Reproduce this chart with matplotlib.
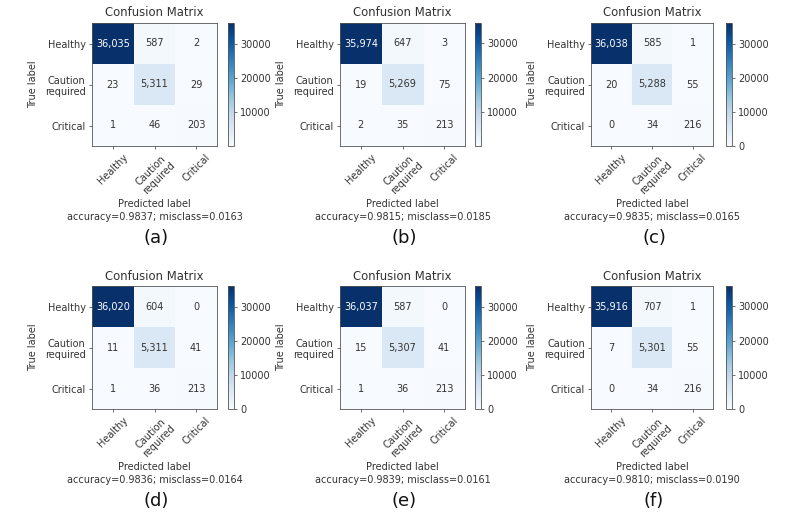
import numpy as np
import matplotlib
matplotlib.use('Agg')
import matplotlib.pyplot as plt

# ── Data ────────────────────────────────────────────────
classes = ['Healthy', 'Caution\nrequired', 'Critical']
panel_letters = ['(a)', '(b)', '(c)', '(d)', '(e)', '(f)']

cm_a = [[36035, 587, 2], [23, 5311, 29], [1, 46, 203]]
cm_b = [[35974, 647, 3], [19, 5269, 75], [2, 35, 213]]
cm_c = [[36038, 585, 1], [20, 5288, 55], [0, 34, 216]]
cm_d = [[36020, 604, 0], [11, 5311, 41], [1, 36, 213]]
cm_e = [[36037, 587, 0], [15, 5307, 41], [1, 36, 213]]
cm_f = [[35916, 707, 1], [7, 5301, 55], [0, 34, 216]]
matrices = [cm_a, cm_b, cm_c, cm_d, cm_e, cm_f]

# ── Layout (pixels in an 800x531 canvas) ────────────────
W, H = 800, 531
col_left = [92, 340, 591]
col_width = [125, 125, 122]
cbar_left = [228, 475, 726]
row_top = [23, 286]
mat_h = 123
TXT = '#333333'
EDGE = '#555555'

fig = plt.figure(figsize=(W / 100, H / 100), dpi=100)
fig.patch.set_facecolor('white')


def px(x0, y0, w, h):
    return [x0 / W, 1 - (y0 + h) / H, w / W, h / H]


for i, cm in enumerate(matrices):
    r, c = divmod(i, 3)
    cm = np.array(cm)
    x0, y0, w = col_left[c], row_top[r], col_width[c]
    ax = fig.add_axes(px(x0, y0, w, mat_h))
    cax = fig.add_axes(px(cbar_left[c], y0, 6, mat_h))

    im = ax.imshow(cm, interpolation='nearest', cmap=plt.cm.Blues, aspect='auto')
    cb = fig.colorbar(im, cax=cax)
    cb.set_ticks([t for t in [0, 10000, 20000, 30000] if t >= cm.min()])
    cb.ax.tick_params(labelsize=7, length=2.5, width=0.6, colors=EDGE,
                      labelcolor=TXT, pad=2)
    cb.outline.set_edgecolor(EDGE)
    cb.outline.set_linewidth(0.6)

    thresh = cm.max() / 2
    for ii in range(3):
        for jj in range(3):
            ax.text(jj, ii, f'{cm[ii, jj]:,}', ha='center', va='center',
                    fontsize=7, color='white' if cm[ii, jj] > thresh else TXT)

    ax.set_xticks(range(3))
    ax.set_yticks(range(3))
    ax.set_xticklabels(classes, rotation=45, ha='center', rotation_mode='default')
    ax.set_yticklabels(classes)
    ax.tick_params(labelsize=7, length=2.5, width=0.6, colors=EDGE,
                   labelcolor=TXT, pad=2)
    for s in ax.spines.values():
        s.set_edgecolor(EDGE)
        s.set_linewidth(0.6)

    cx = x0 + w / 2
    fig.text(cx / W, 1 - (y0 - 10) / H, 'Confusion Matrix', ha='center',
             va='center', fontsize=8.4, color=TXT)
    fig.text((x0 - 59) / W, 1 - (y0 + mat_h / 2) / H, 'True label',
             rotation=90, ha='center', va='center', fontsize=7, color=TXT)

    acc = np.trace(cm) / cm.sum()
    fig.text(cx / W, 1 - (y0 + 181) / H, 'Predicted label', ha='center',
             va='center', fontsize=7, color=TXT)
    fig.text(cx / W, 1 - (y0 + 194) / H,
             f'accuracy={acc:0.4f}; misclass={1 - acc:0.4f}', ha='center',
             va='center', fontsize=7, color=TXT)
    fig.text((cx + 2) / W, 1 - (y0 + 215) / H, panel_letters[i], ha='center',
             va='center', fontsize=13, color='#111111')

fig.savefig('out.png', dpi=100, facecolor='white')
